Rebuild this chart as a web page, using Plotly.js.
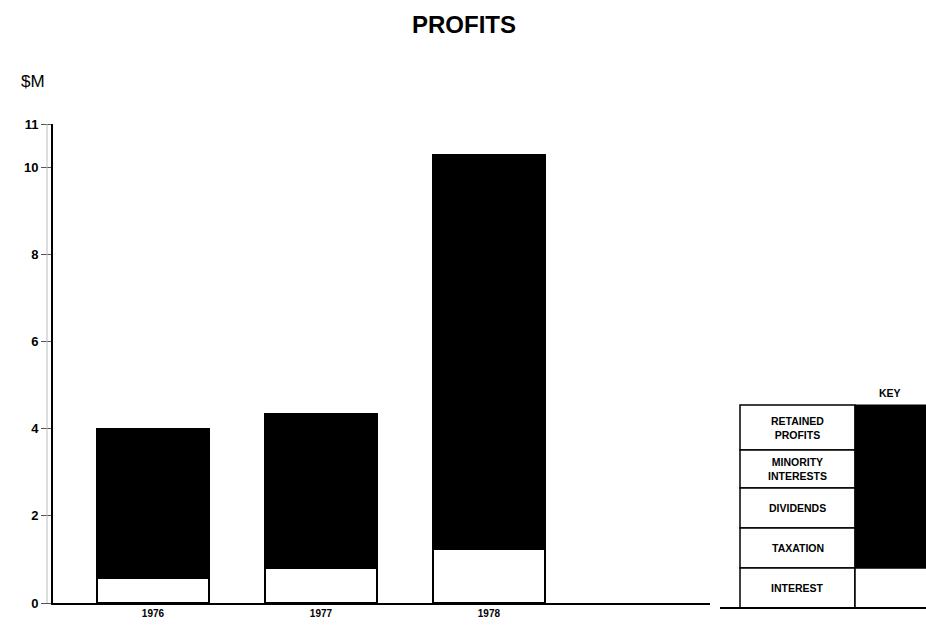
<!DOCTYPE html>
<html>
<head>
<meta charset="utf-8">
<script src="https://cdn.plot.ly/plotly-3.0.1.min.js"></script>
<style>html,body{margin:0;padding:0;background:#fff;}#chart{width:926px;height:628px;}</style>
</head>
<body>
<div id="chart"></div>
<script>
// ---- data ($M) ----
const years = ["1976", "1977", "1978"];
const interest = [0.57, 0.80, 1.24];
const taxation = [1.55, 1.75, 3.07];
const dividends = [0.60, 0.70, 0.69];
const minorityInterests = [0.35, 0.38, 0.92];
const retainedProfits = [0.93, 0.70, 4.36];
const yTickVals = [0, 2, 4, 6, 8, 10, 11];
const yTickText = ["0", "2", "4", "6", "8", "10", "11"];
const keyLabels = ["RETAINED<br>PROFITS", "MINORITY<br>INTERESTS", "DIVIDENDS", "TAXATION", "INTEREST"];

// ---- layout geometry (pixels) ----
const W = 926, H = 628;
const L = 53, R = 710, T = 124, B = 603;
const px = v => (v - L) / (R - L);
const py = v => (B - v) / (B - T);

const font = "Liberation Sans, Arial, sans-serif";

function seg(name, vals, fill) {
  return {
    type: "bar", name: name, x: years, y: vals,
    width: 0.67,
    marker: { color: fill, line: { color: "#000", width: 2 } },
    hoverinfo: "name+y", showlegend: false
  };
}

const data = [
  seg("Interest", interest, "#ffffff"),
  seg("Taxation", taxation, "#000000"),
  seg("Dividends", dividends, "#000000"),
  seg("Minority interests", minorityInterests, "#000000"),
  seg("Retained profits", retainedProfits, "#000000")
];

// key (legend) drawn with shapes/annotations
const shapes = [];
const annotations = [];
const rowEdges = [405, 450, 488, 528, 568, 608];
const kL = 740, kM = 855, kR = 926;
for (let i = 0; i < keyLabels.length; i++) {
  const y0 = rowEdges[i + 1], y1 = rowEdges[i];
  shapes.push({ type: "rect", xref: "paper", yref: "paper",
    x0: px(kL), x1: px(kM), y0: py(y0), y1: py(y1),
    line: { color: "#000", width: 1.5 }, fillcolor: "#fff" });
  annotations.push({ xref: "paper", yref: "paper", x: px((kL + kM) / 2), y: py((y0 + y1) / 2),
    text: keyLabels[i], showarrow: false, xanchor: "center", yanchor: "middle",
    font: { family: font, size: 10.5, color: "#000", weight: "bold" } });
}
shapes.push({ type: "rect", xref: "paper", yref: "paper",
  x0: px(kM), x1: px(kR + 2), y0: py(568), y1: py(405),
  line: { color: "#000", width: 1 }, fillcolor: "#000" });
shapes.push({ type: "rect", xref: "paper", yref: "paper",
  x0: px(kM), x1: px(kR + 2), y0: py(608), y1: py(568),
  line: { color: "#000", width: 1.5 }, fillcolor: "#fff" });
shapes.push({ type: "line", xref: "paper", yref: "paper",
  x0: px(720), x1: px(kR), y0: py(608), y1: py(608),
  line: { color: "#000", width: 2 } });
// faint tick connector line
shapes.push({ type: "line", xref: "paper", yref: "paper",
  x0: px(47), x1: px(47), y0: py(603), y1: py(124),
  line: { color: "#bbb", width: 1 } });

annotations.push({ xref: "paper", yref: "paper", x: px(890), y: py(393),
  text: "KEY", showarrow: false, xanchor: "center", yanchor: "middle",
  font: { family: font, size: 10.5, color: "#000", weight: "bold" } });
annotations.push({ xref: "paper", yref: "paper", x: px(33), y: py(81),
  text: "$M", showarrow: false, xanchor: "center", yanchor: "middle",
  font: { family: font, size: 17, color: "#000" } });

const layout = {
  width: W, height: H,
  margin: { l: L, r: W - R, t: T, b: H - B },
  paper_bgcolor: "#fff", plot_bgcolor: "#fff",
  barmode: "stack",
  showlegend: false,
  title: { text: "PROFITS", xref: "container", yref: "container",
    x: 464 / W, y: 1 - 25 / H, xanchor: "center", yanchor: "middle",
    font: { family: font, size: 24, color: "#000", weight: "bold" } },
  xaxis: {
    type: "category", range: [-0.595, 3.316],
    showline: true, linecolor: "#000", linewidth: 2,
    ticks: "", showgrid: false, zeroline: false,
    tickfont: { family: font, size: 10, color: "#000", weight: "bold" }
  },
  yaxis: {
    range: [0, 11], tickvals: yTickVals, ticktext: yTickText,
    showline: true, linecolor: "#000", linewidth: 2,
    ticks: "outside", ticklen: 10, tickwidth: 1, tickcolor: "#555",
    showgrid: false, zeroline: false,
    tickfont: { family: font, size: 13, color: "#000", weight: "bold" }
  },
  shapes: shapes,
  annotations: annotations
};

Plotly.newPlot("chart", data, layout, { displayModeBar: false, staticPlot: true });
</script>
</body>
</html>
